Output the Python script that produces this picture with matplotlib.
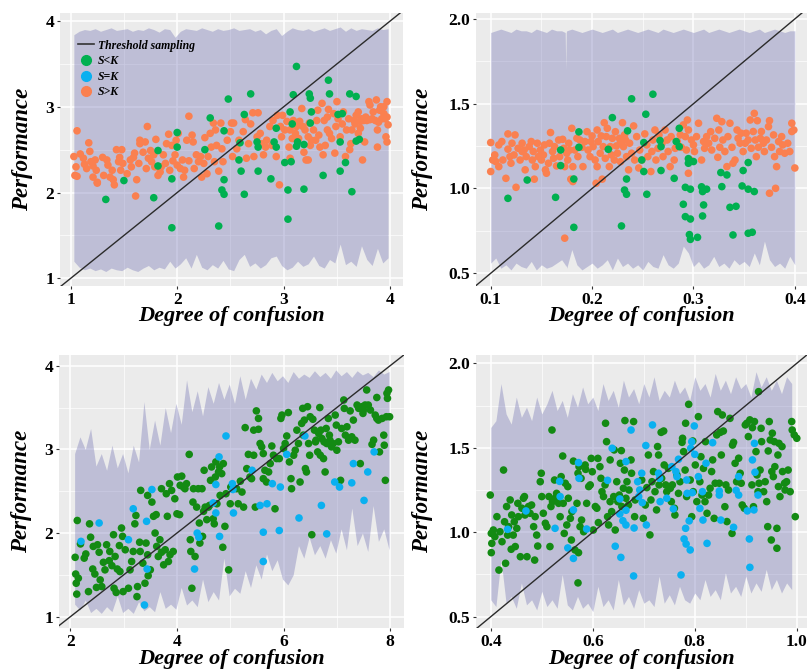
import matplotlib.pyplot as plt
from matplotlib.lines import Line2D

plt.rcParams['font.family'] = ['Liberation Serif', 'DejaVu Serif']

W, H = 807, 669
BG = '#EBEBEB'
BAND = '#6A6AB0'
GREEN = '#00B050'
DKGREEN = '#138A13'
BLUE = '#0AB0F0'
ORANGE = '#FA8050'

# ---------------- panel 1 (top left) ----------------
p1_orange = [
    (1.06, 2.72), (1.17, 2.58), (1.03, 2.42), (1.09, 2.45), (1.12, 2.40), (1.18, 2.48), (1.05, 2.30), (1.04, 2.20),
    (1.06, 2.19), (1.13, 2.33), (1.15, 2.28), (1.19, 2.36), (1.21, 2.31), (1.23, 2.38), (1.24, 2.26), (1.25, 2.11),
    (1.21, 2.18), (1.30, 2.41), (1.31, 2.20), (1.34, 2.38), (1.35, 2.32), (1.37, 2.18), (1.39, 2.26), (1.40, 2.15),
    (1.41, 2.09), (1.43, 2.50), (1.45, 2.36), (1.46, 2.41), (1.47, 2.26), (1.48, 2.50), (1.49, 2.34), (1.53, 2.22),
    (1.56, 2.38), (1.57, 2.30), (1.59, 2.41), (1.60, 2.46), (1.62, 2.15), (1.64, 2.34), (1.65, 2.57), (1.65, 2.61),
    (1.68, 2.47), (1.70, 2.59), (1.71, 2.28), (1.72, 2.77), (1.73, 2.40), (1.75, 2.49), (1.76, 2.36), (1.78, 2.44),
    (1.79, 2.30), (1.80, 2.62), (1.82, 2.20), (1.84, 2.24), (1.85, 2.30), (1.87, 2.44), (1.89, 2.34), (1.90, 2.57),
    (1.92, 2.68), (1.93, 2.26), (1.95, 2.55), (1.96, 2.37), (1.98, 2.44), (1.99, 2.61), (2.00, 2.32), (2.01, 2.69),
    (2.03, 2.28), (2.05, 2.38), (2.06, 2.18), (2.07, 2.26), (2.09, 2.61), (2.11, 2.89), (2.11, 2.37), (2.14, 2.67),
    (2.15, 2.59), (2.16, 2.28), (2.18, 2.44), (2.20, 2.36), (2.22, 2.42), (2.23, 2.18), (2.25, 2.34), (2.26, 2.64),
    (2.28, 2.22), (2.29, 2.42), (2.31, 2.69), (2.32, 2.53), (2.34, 2.81), (2.35, 2.36), (2.36, 2.73), (2.37, 2.55),
    (2.39, 2.25), (2.41, 2.81), (2.42, 2.51), (2.43, 2.36), (2.47, 2.61), (2.50, 2.71), (2.51, 2.81), (2.52, 2.42),
    (1.61, 1.96), (1.25, 2.12),
    (2.53, 2.81), (2.56, 2.51), (2.58, 2.61), (2.62, 2.71), (2.64, 2.85), (2.65, 2.40), (2.67, 2.57), (2.69, 2.80),
    (2.71, 2.93), (2.72, 2.42), (2.75, 2.65), (2.76, 2.93), (2.78, 2.69), (2.79, 2.57), (2.81, 2.44), (2.83, 2.53),
    (2.84, 2.61), (2.87, 2.77), (2.89, 2.55), (2.90, 2.84), (2.93, 2.42), (2.94, 2.90), (2.96, 2.09), (2.97, 2.77),
    (2.98, 2.65), (2.99, 2.90), (3.01, 2.73), (3.03, 2.83), (3.05, 2.53), (3.06, 2.40), (3.06, 2.73), (3.08, 2.63),
    (3.09, 2.84), (3.11, 2.69), (3.12, 2.77), (3.14, 2.63), (3.15, 2.83), (3.17, 2.98), (3.18, 2.77), (3.19, 2.47),
    (3.20, 2.73), (3.21, 2.38), (3.23, 2.38), (3.23, 2.65), (3.24, 2.81), (3.25, 2.55), (3.26, 2.61), (3.28, 2.73),
    (3.30, 2.61), (3.31, 2.84), (3.32, 2.96), (3.33, 2.67), (3.34, 2.53), (3.36, 3.04), (3.37, 2.44), (3.38, 2.84),
    (3.39, 2.55), (3.41, 2.73), (3.41, 2.88), (3.42, 2.97), (3.43, 2.69), (3.45, 2.63), (3.47, 2.92), (3.48, 2.46),
    (3.49, 2.77), (3.50, 3.06), (3.51, 2.86), (3.53, 2.65), (3.55, 2.80), (3.56, 2.94), (3.58, 2.42), (3.59, 2.73),
    (3.61, 2.86), (3.62, 2.50), (3.63, 2.57), (3.64, 2.73), (3.66, 2.84), (3.67, 2.80), (3.68, 2.90), (3.70, 2.69),
    (3.70, 2.94), (3.72, 2.75), (3.72, 2.83), (3.73, 2.86), (3.74, 2.38), (3.75, 2.84), (3.76, 2.59), (3.77, 2.88),
    (3.78, 2.84), (3.80, 3.06), (3.81, 2.85), (3.81, 3.02), (3.83, 2.86), (3.84, 2.94), (3.86, 2.84), (3.87, 3.08),
    (3.88, 2.73), (3.88, 2.53), (3.89, 2.82), (3.90, 2.96), (3.91, 3.00), (3.92, 2.86), (3.94, 3.00), (3.94, 2.92),
    (3.95, 2.86), (3.96, 2.65), (3.97, 3.06), (3.97, 2.88), (3.98, 2.79), (3.97, 2.59),
]
p1_green = [
    (1.33, 1.92), (1.50, 2.14), (1.78, 1.94), (1.82, 2.49), (1.82, 2.31), (1.95, 1.59), (1.95, 2.16), (2.00, 2.70),
    (2.00, 2.53), (2.26, 2.50), (2.31, 2.87), (2.39, 1.61), (2.48, 3.09), (2.44, 2.72), (2.44, 2.15), (2.42, 2.03),
    (2.44, 1.98), (2.58, 2.38), (2.59, 2.58), (2.60, 2.25), (2.63, 2.91), (2.63, 1.98), (2.69, 3.15), (2.75, 2.59),
    (2.76, 2.53), (2.76, 2.25), (2.88, 2.16), (2.91, 2.59), (2.93, 2.75), (2.93, 2.53), (3.01, 2.35), (3.04, 2.03),
    (3.04, 1.69), (3.06, 2.94), (3.07, 2.36), (3.08, 2.80), (3.09, 3.14), (3.12, 3.47), (3.12, 2.54), (3.13, 2.59),
    (3.19, 2.56), (3.19, 2.04), (3.24, 3.15), (3.25, 3.10), (3.25, 2.81), (3.26, 2.94), (3.37, 2.20), (3.42, 3.31),
    (3.43, 3.15), (3.51, 2.91), (3.55, 2.92), (3.53, 2.59), (3.53, 2.25), (3.58, 2.35), (3.62, 3.15), (3.64, 2.01),
    (3.68, 3.12), (3.68, 2.60), (3.71, 2.62),
]
band1_x = [1.03, 1.08, 1.13, 1.18, 1.23, 1.28, 1.33, 1.38, 1.43, 1.48,
           1.53, 1.58, 1.63, 1.68, 1.73, 1.78, 1.83, 1.88, 1.93, 1.98,
           2.03, 2.08, 2.13, 2.18, 2.23, 2.28, 2.33, 2.38, 2.43, 2.48,
           2.53, 2.58, 2.63, 2.68, 2.73, 2.78, 2.83, 2.88, 2.93, 2.98,
           3.03, 3.08, 3.13, 3.18, 3.23, 3.28, 3.33, 3.38, 3.43, 3.48,
           3.53, 3.58, 3.63, 3.68, 3.73, 3.78, 3.83, 3.88, 3.93, 3.98]
band1_hi = [3.84, 3.88, 3.90, 3.89, 3.91, 3.88, 3.90, 3.92, 3.89, 3.90,
            3.91, 3.88, 3.90, 3.89, 3.92, 3.90, 3.87, 3.91, 3.90, 3.81,
            3.88, 3.91, 3.90, 3.89, 3.92, 3.90, 3.88, 3.91, 3.89, 3.90,
            3.92, 3.89, 3.90, 3.91, 3.88, 3.90, 3.85, 3.89, 3.91, 3.83,
            3.88, 3.92, 3.90, 3.89, 3.91, 3.88, 3.90, 3.92, 3.89, 3.91,
            3.93, 3.88, 3.92, 3.89, 3.91, 3.90, 3.89, 3.92, 3.90, 3.91]
band1_lo = [1.20, 1.13, 1.10, 1.12, 1.09, 1.11, 1.08, 1.12, 1.10, 1.09,
            1.13, 1.10, 1.08, 1.12, 1.15, 1.10, 1.13, 1.11, 1.20, 1.12,
            1.17, 1.24, 1.12, 1.28, 1.13, 1.10, 1.16, 1.12, 1.21, 1.11,
            1.09, 1.22, 1.28, 1.14, 1.18, 1.12, 1.16, 1.24, 1.26, 1.15,
            1.10, 1.13, 1.20, 1.14, 1.17, 1.26, 1.15, 1.12, 1.22, 1.18,
            1.40, 1.16, 1.20, 1.14, 1.38, 1.22, 1.15, 1.35, 1.18, 1.24]

# ---------------- panel 2 (top right) ----------------
p2_orange = [
    (0.100, 1.271), (0.102, 1.168), (0.100, 1.100), (0.104, 1.198), (0.105, 1.159), (0.108, 1.257), (0.108, 1.129),
    (0.111, 1.277), (0.112, 1.168), (0.115, 1.060), (0.117, 1.322), (0.117, 1.232), (0.119, 1.188), (0.120, 1.149),
    (0.121, 1.267), (0.123, 1.198), (0.124, 1.316), (0.125, 1.007), (0.127, 1.237), (0.129, 1.168), (0.131, 1.267),
    (0.131, 1.218), (0.133, 1.227), (0.134, 1.110), (0.135, 1.188), (0.138, 1.247), (0.140, 1.277), (0.141, 1.168),
    (0.142, 1.218), (0.143, 1.055), (0.144, 1.129), (0.146, 1.267), (0.147, 1.188), (0.149, 1.227), (0.150, 1.168),
    (0.152, 1.198), (0.153, 1.257), (0.154, 1.110), (0.155, 1.090), (0.157, 1.149), (0.158, 1.267), (0.159, 1.330),
    (0.161, 1.218), (0.162, 1.178), (0.163, 1.247), (0.165, 1.133), (0.167, 1.286), (0.168, 1.188), (0.171, 1.290),
    (0.172, 1.237), (0.173, 1.129), (0.173, 0.707), (0.175, 1.208), (0.176, 1.168), (0.177, 1.267), (0.178, 1.227),
    (0.179, 1.055), (0.180, 1.355), (0.181, 1.129), (0.181, 1.041), (0.183, 1.227), (0.185, 1.296), (0.186, 1.188),
    (0.188, 1.286), (0.190, 1.243), (0.191, 1.129), (0.193, 1.277), (0.195, 1.335), (0.196, 1.227), (0.198, 1.188),
    (0.199, 1.277), (0.200, 1.310), (0.201, 1.247), (0.203, 1.168), (0.204, 1.031), (0.205, 1.345), (0.205, 1.129),
    (0.206, 1.277), (0.208, 1.208), (0.209, 1.310), (0.210, 1.055), (0.211, 1.247), (0.212, 1.388), (0.213, 1.178),
    (0.214, 1.306), (0.215, 1.355), (0.217, 1.129), (0.218, 1.247), (0.219, 1.198), (0.220, 1.296), (0.222, 1.168),
    (0.223, 1.335), (0.224, 1.251), (0.225, 1.208), (0.227, 1.296), (0.228, 1.277), (0.228, 1.158), (0.230, 1.388),
    (0.231, 1.247), (0.232, 1.316), (0.233, 1.286), (0.234, 1.188), (0.236, 1.110), (0.237, 1.267), (0.239, 1.208),
    (0.241, 1.369), (0.242, 1.168), (0.244, 1.306), (0.246, 1.121),
    (0.247, 1.227), (0.249, 1.168), (0.252, 1.322), (0.254, 1.257), (0.255, 1.188), (0.258, 1.100), (0.259, 1.218),
    (0.260, 1.286), (0.262, 1.345), (0.263, 1.168), (0.265, 1.237), (0.266, 1.316), (0.269, 1.267), (0.270, 1.188),
    (0.272, 1.345), (0.274, 1.286), (0.275, 1.218), (0.277, 1.129), (0.278, 1.306), (0.281, 1.168), (0.282, 1.237),
    (0.284, 1.277), (0.287, 1.316), (0.288, 1.243), (0.290, 1.375), (0.292, 1.306), (0.293, 1.227), (0.294, 1.404),
    (0.295, 1.090), (0.295, 1.345), (0.297, 1.168), (0.298, 1.286), (0.300, 1.257), (0.301, 1.218), (0.303, 1.306),
    (0.305, 1.385), (0.308, 1.168), (0.310, 1.277), (0.311, 1.237), (0.313, 1.306), (0.315, 1.267), (0.317, 1.335),
    (0.318, 1.227), (0.321, 1.296), (0.323, 1.414), (0.324, 1.184), (0.325, 1.345), (0.326, 1.243), (0.328, 1.394),
    (0.329, 1.286), (0.331, 1.218), (0.333, 1.129), (0.334, 1.306), (0.336, 1.385), (0.338, 1.243), (0.339, 1.149),
    (0.341, 1.168), (0.343, 1.345), (0.344, 1.296), (0.346, 1.267), (0.347, 1.326), (0.349, 1.218), (0.351, 1.267),
    (0.352, 1.326), (0.354, 1.286), (0.356, 1.404), (0.357, 1.237), (0.359, 1.336), (0.360, 1.443), (0.361, 1.286),
    (0.362, 1.188), (0.363, 1.400), (0.364, 1.243), (0.366, 1.296), (0.367, 1.336), (0.369, 1.267), (0.370, 1.218),
    (0.372, 1.286), (0.374, 1.365), (0.375, 0.972), (0.375, 1.400), (0.377, 1.243), (0.379, 1.316), (0.380, 1.188),
    (0.381, 1.001), (0.382, 1.129), (0.384, 1.277), (0.385, 1.218), (0.387, 1.306), (0.388, 1.257), (0.390, 1.208),
    (0.393, 1.267), (0.395, 1.218), (0.397, 1.385), (0.397, 1.336), (0.399, 1.345), (0.400, 1.121),
]
p2_green = [
    (0.117, 0.942), (0.136, 1.050), (0.164, 0.948), (0.169, 1.227), (0.169, 1.135), (0.182, 1.056), (0.182, 0.771),
    (0.187, 1.334), (0.187, 1.243), (0.216, 1.231), (0.220, 1.418), (0.235, 1.340), (0.234, 1.056), (0.229, 0.779),
    (0.232, 0.991), (0.234, 0.966), (0.239, 1.529), (0.253, 1.438), (0.260, 1.556), (0.254, 0.966), (0.249, 1.168),
    (0.251, 1.271), (0.251, 1.100), (0.267, 1.283), (0.268, 1.247), (0.268, 1.106), (0.281, 1.060), (0.286, 1.355),
    (0.283, 1.277), (0.286, 1.247), (0.292, 1.007), (0.290, 0.907), (0.292, 0.834), (0.297, 0.820), (0.295, 1.176),
    (0.295, 1.149), (0.300, 1.159), (0.297, 0.996), (0.296, 0.728), (0.297, 0.700), (0.304, 0.712), (0.308, 1.010),
    (0.309, 0.982), (0.313, 0.996), (0.310, 0.903), (0.309, 0.838), (0.327, 1.094), (0.333, 1.080), (0.328, 1.011),
    (0.336, 0.889), (0.342, 0.895), (0.339, 0.726), (0.348, 1.015), (0.349, 1.106), (0.354, 1.153), (0.354, 0.996),
    (0.360, 0.982), (0.354, 0.736), (0.358, 0.742),
]
band2_x = [0.100, 0.105, 0.110, 0.115, 0.120, 0.125, 0.130, 0.135, 0.140, 0.145,
           0.150, 0.155, 0.160, 0.165, 0.170, 0.1735, 0.174, 0.1745, 0.175, 0.180,
           0.185, 0.190, 0.195, 0.200, 0.205, 0.210, 0.215, 0.220, 0.225, 0.230,
           0.235, 0.240, 0.245, 0.250, 0.255, 0.260, 0.265, 0.270, 0.275, 0.280,
           0.285, 0.290, 0.295, 0.300, 0.305, 0.310, 0.315, 0.320, 0.325, 0.330,
           0.335, 0.340, 0.345, 0.350, 0.355, 0.360, 0.365, 0.370, 0.375, 0.380,
           0.385, 0.390, 0.395, 0.400]
band2_hi = [1.92, 1.93, 1.94, 1.93, 1.92, 1.94, 1.93, 1.93, 1.92, 1.94,
            1.93, 1.92, 1.94, 1.93, 1.93, 1.92, 1.70, 1.92, 1.93, 1.94,
            1.93, 1.92, 1.93, 1.94, 1.93, 1.92, 1.93, 1.94, 1.92, 1.93,
            1.94, 1.93, 1.92, 1.93, 1.94, 1.93, 1.92, 1.94, 1.93, 1.92,
            1.93, 1.94, 1.93, 1.92, 1.93, 1.94, 1.92, 1.93, 1.94, 1.93,
            1.92, 1.93, 1.94, 1.93, 1.92, 1.93, 1.94, 1.92, 1.93, 1.94,
            1.93, 1.92, 1.93, 1.93]
band2_lo = [0.56, 0.59, 0.53, 0.55, 0.52, 0.56, 0.54, 0.53, 0.57, 0.52,
            0.55, 0.53, 0.54, 0.56, 0.58, 0.55, 0.54, 0.55, 0.53, 0.64,
            0.55, 0.52, 0.54, 0.56, 0.53, 0.55, 0.58, 0.52, 0.59, 0.54,
            0.56, 0.53, 0.55, 0.52, 0.57, 0.54, 0.53, 0.61, 0.55, 0.53,
            0.56, 0.66, 0.62, 0.54, 0.57, 0.53, 0.55, 0.60, 0.54, 0.56,
            0.53, 0.58, 0.55, 0.57, 0.54, 0.62, 0.55, 0.69, 0.58, 0.54,
            0.56, 0.53, 0.60, 0.55]

# ---------------- panel 3 (bottom left) ----------------
p3_green = [
    (2.13, 2.15), (2.36, 2.11), (2.09, 1.71), (2.10, 1.51), (2.11, 1.40), (2.12, 1.27), (2.15, 1.46), (2.19, 1.87),
    (2.26, 1.70), (2.29, 1.75), (2.34, 1.30), (2.38, 1.95), (2.42, 1.57), (2.43, 1.84), (2.46, 1.51), (2.49, 1.35),
    (2.51, 1.86), (2.54, 1.77), (2.56, 1.44), (2.59, 1.36), (2.62, 1.65), (2.65, 1.56), (2.68, 1.86), (2.73, 1.67),
    (2.74, 1.78), (2.78, 1.61), (2.81, 1.98), (2.82, 1.34), (2.84, 1.72), (2.86, 1.29), (2.88, 1.57), (2.92, 1.85),
    (2.93, 1.54), (2.96, 2.06), (2.98, 1.96), (2.99, 1.30), (3.03, 1.80), (3.09, 1.34), (3.12, 1.56), (3.15, 1.66),
    (3.18, 1.78), (3.21, 2.11), (3.23, 2.21), (3.25, 1.24), (3.26, 1.36), (3.30, 1.89), (3.31, 1.78), (3.32, 2.51),
    (3.36, 1.64), (3.40, 1.40), (3.42, 1.88), (3.45, 2.45), (3.45, 1.74), (3.46, 1.49), (3.50, 1.56), (3.53, 2.37),
    (3.56, 2.20), (3.59, 2.00), (3.61, 2.22), (3.62, 1.84), (3.65, 1.72), (3.68, 1.92), (3.71, 1.77), (3.71, 2.53),
    (3.75, 1.62), (3.78, 1.80), (3.80, 2.47), (3.82, 2.20), (3.84, 1.66), (3.86, 2.59), (3.87, 1.74), (3.90, 2.51),
    (3.93, 1.78), (3.96, 2.41), (4.00, 2.23), (4.01, 2.67), (4.05, 2.22), (4.06, 2.57), (4.09, 2.68), (4.12, 2.55),
    (4.15, 2.53), (4.18, 2.59), (4.23, 2.94), (4.25, 1.92), (4.26, 1.78), (4.28, 1.34), (4.30, 2.37), (4.31, 2.53),
    (4.34, 1.72), (4.37, 2.31), (4.40, 2.53), (4.42, 2.12), (4.43, 1.88), (4.47, 2.53), (4.48, 1.96), (4.50, 2.26),
    (4.51, 2.75), (4.53, 2.31), (4.56, 2.16), (4.59, 2.31), (4.61, 2.33), (4.63, 2.63), (4.65, 2.79), (4.68, 2.17),
    (4.70, 2.11), (4.72, 2.67), (4.73, 2.85), (4.75, 2.35), (4.78, 2.73), (4.80, 2.79), (4.81, 2.45), (4.84, 2.71),
    (4.86, 1.83), (4.87, 2.83), (4.90, 2.08), (4.92, 2.47), (4.97, 1.56), (5.00, 2.35), (5.01, 2.55),
    (5.12, 2.53), (5.15, 2.35), (5.19, 2.62), (5.22, 2.49), (5.25, 2.31), (5.28, 3.26), (5.31, 2.77), (5.34, 2.94),
    (5.37, 2.67), (5.40, 2.65), (5.44, 2.93), (5.44, 3.23), (5.47, 2.31), (5.49, 3.46), (5.53, 3.37), (5.53, 3.24),
    (5.56, 3.07), (5.59, 3.03), (5.62, 2.95), (5.62, 2.65), (5.65, 2.75), (5.68, 2.61), (5.72, 2.73), (5.75, 2.83),
    (5.78, 3.04), (5.81, 2.93), (5.84, 2.29), (5.87, 2.89), (5.92, 2.89), (5.95, 3.37), (5.97, 3.41), (6.00, 3.01),
    (6.03, 3.07), (6.06, 3.16), (6.09, 3.44), (6.11, 2.85), (6.14, 2.65), (6.15, 2.53), (6.19, 2.93), (6.22, 2.99),
    (6.25, 3.23), (6.28, 3.07), (6.31, 2.61), (6.34, 3.31), (6.36, 3.49), (6.37, 3.17), (6.39, 3.35), (6.41, 2.77),
    (6.43, 2.73), (6.45, 3.51), (6.47, 3.07), (6.49, 2.93), (6.50, 3.39), (6.53, 1.98), (6.55, 3.36), (6.58, 3.23),
    (6.60, 3.09), (6.61, 3.11), (6.64, 2.97), (6.66, 3.19), (6.68, 3.50), (6.69, 2.93), (6.70, 3.23), (6.72, 3.13),
    (6.75, 2.89), (6.76, 3.09), (6.78, 2.73), (6.80, 3.25), (6.81, 3.07), (6.84, 3.37), (6.86, 3.17), (6.87, 3.11),
    (6.90, 3.03), (6.93, 3.07), (6.97, 3.41), (6.99, 3.29), (7.00, 2.99), (7.03, 3.09), (7.07, 2.63), (7.09, 3.25),
    (7.13, 3.59), (7.14, 3.49), (7.16, 3.17), (7.19, 3.27), (7.22, 3.11), (7.25, 3.46), (7.28, 3.15), (7.31, 3.35),
    (7.34, 3.11), (7.38, 3.53), (7.41, 3.49), (7.44, 2.83), (7.47, 3.51), (7.49, 3.43), (7.50, 3.47), (7.53, 3.53),
    (7.56, 3.71), (7.59, 3.53), (7.63, 3.47), (7.66, 3.06), (7.69, 3.11), (7.72, 3.41), (7.75, 3.62), (7.75, 3.37),
    (7.78, 3.35), (7.80, 2.97), (7.85, 3.37), (7.88, 3.17), (7.89, 3.05), (7.91, 2.63), (7.93, 3.39), (7.94, 3.67),
    (7.95, 3.61), (7.97, 3.71), (7.99, 3.39),
]
p3_blue = [
    (2.20, 1.90), (2.54, 2.12), (3.09, 1.92), (3.18, 2.29), (3.43, 2.14), (3.53, 2.52), (3.44, 1.57), (3.39, 1.14),
    (4.33, 1.57), (4.38, 2.00), (4.41, 1.95), (4.68, 2.36), (4.73, 2.24), (4.73, 2.58), (4.80, 1.96), (4.79, 2.91),
    (4.92, 3.16), (5.04, 2.59), (5.05, 2.52), (5.06, 2.24), (5.41, 2.75), (5.56, 2.33), (5.62, 2.01), (5.62, 1.66),
    (5.69, 2.35), (5.79, 2.59), (5.92, 2.03), (5.94, 2.55), (6.06, 2.94), (6.29, 2.18), (6.40, 3.16), (6.71, 2.33),
    (6.81, 1.99), (6.96, 2.61), (7.05, 2.55), (7.28, 2.60), (7.31, 2.83), (7.51, 2.39), (7.58, 2.73), (7.70, 2.97),
]
band3_x = [2.08, 2.18, 2.28, 2.38, 2.48, 2.58, 2.68, 2.78, 2.88, 2.98,
           3.08, 3.18, 3.28, 3.38, 3.48, 3.58, 3.68, 3.78, 3.88, 3.98,
           4.08, 4.18, 4.28, 4.38, 4.48, 4.58, 4.68, 4.78, 4.88, 4.98,
           5.08, 5.18, 5.28, 5.38, 5.48, 5.58, 5.68, 5.78, 5.88, 5.98,
           6.08, 6.18, 6.28, 6.38, 6.48, 6.58, 6.68, 6.78, 6.88, 6.98,
           7.08, 7.18, 7.28, 7.38, 7.48, 7.58, 7.68, 7.78, 7.88, 7.98]
band3_hi = [2.95, 3.15, 3.00, 3.25, 2.80, 2.95, 2.75, 3.05, 2.78, 2.95,
            2.72, 3.05, 2.85, 3.57, 3.00, 3.35, 3.05, 3.50, 3.20, 3.55,
            3.30, 3.83, 3.45, 3.70, 3.40, 3.75, 3.55, 3.80, 3.60, 3.78,
            3.55, 3.88, 3.60, 3.85, 3.72, 3.90, 3.80, 3.92, 3.82, 3.88,
            3.80, 3.93, 3.85, 3.90, 3.86, 3.94, 3.87, 3.92, 3.85, 3.95,
            3.88, 3.93, 3.86, 3.94, 3.89, 3.92, 3.87, 3.95, 3.90, 3.93]
band3_lo = [1.15, 1.08, 1.20, 1.05, 1.10, 1.04, 1.12, 1.06, 1.25, 1.05,
            1.10, 1.04, 1.18, 1.07, 1.12, 1.06, 1.30, 1.10, 1.15, 1.09,
            1.35, 1.14, 1.20, 1.12, 1.45, 1.18, 1.30, 1.20, 1.70, 1.25,
            1.34, 1.28, 1.55, 1.35, 1.62, 1.45, 1.75, 1.55, 1.68, 1.45,
            1.38, 1.50, 1.85, 1.70, 1.95, 1.74, 1.85, 1.70, 1.92, 1.76,
            2.05, 1.80, 2.30, 1.85, 2.00, 1.78, 2.33, 1.90, 2.05, 1.80]

# ---------------- panel 4 (bottom right) ----------------
p4_green = [
    (0.399, 1.220), (0.401, 0.993), (0.402, 0.934), (0.401, 0.879), (0.405, 1.013), (0.408, 0.974), (0.412, 1.092),
    (0.416, 0.776), (0.418, 1.003), (0.422, 0.944), (0.425, 1.368), (0.427, 1.062), (0.429, 0.816), (0.431, 1.152),
    (0.433, 0.983), (0.435, 1.033), (0.438, 1.191), (0.440, 0.899), (0.441, 1.102), (0.444, 0.983), (0.446, 1.062),
    (0.448, 0.915), (0.451, 1.023), (0.453, 1.171), (0.454, 1.092), (0.458, 0.855), (0.461, 1.142), (0.464, 1.201),
    (0.466, 1.211), (0.467, 1.102), (0.471, 0.855), (0.474, 1.152), (0.477, 1.112), (0.480, 1.161), (0.484, 1.033),
    (0.486, 0.835), (0.487, 1.092), (0.490, 0.983), (0.492, 0.918), (0.497, 1.299), (0.499, 1.349), (0.500, 1.211),
    (0.503, 1.112), (0.507, 1.053), (0.510, 1.033), (0.514, 1.211), (0.516, 0.915), (0.518, 1.152), (0.520, 1.605),
    (0.521, 1.181), (0.525, 1.309), (0.526, 1.201), (0.529, 1.230), (0.533, 1.171), (0.536, 1.092), (0.538, 1.329),
    (0.541, 1.451), (0.542, 1.171), (0.544, 0.993), (0.546, 1.290), (0.549, 1.043), (0.551, 1.270), (0.552, 1.201),
    (0.556, 1.082), (0.558, 0.954), (0.559, 1.122), (0.562, 1.421), (0.565, 0.895), (0.569, 1.171), (0.571, 1.349),
    (0.572, 0.879), (0.573, 1.388), (0.575, 1.033), (0.577, 1.319), (0.578, 1.072), (0.582, 1.003), (0.585, 1.398),
    (0.586, 1.372), (0.588, 1.171), (0.592, 1.270), (0.595, 1.280), (0.597, 1.437), (0.599, 1.358), (0.601, 1.013),
    (0.605, 1.152), (0.608, 1.142), (0.610, 1.437), (0.611, 1.057), (0.614, 1.388), (0.616, 1.319), (0.618, 1.240),
    (0.621, 1.211), (0.624, 1.280), (0.625, 1.645), (0.627, 1.536), (0.629, 1.092), (0.631, 1.043), (0.634, 1.428),
    (0.634, 1.181), (0.637, 1.122), (0.641, 1.211), (0.642, 1.487), (0.644, 1.013), (0.647, 1.299), (0.649, 1.181),
    (0.652, 1.220), (0.654, 1.408), (0.656, 1.483), (0.657, 1.152), (0.660, 1.260), (0.662, 1.368), (0.663, 1.661),
    (0.665, 1.201), (0.667, 1.299), (0.670, 1.161), (0.671, 1.250), (0.675, 1.428), (0.676, 1.349), (0.680, 1.655),
    (0.682, 1.092), (0.683, 1.191), (0.571, 0.700),
    (0.696, 1.309), (0.699, 1.082), (0.703, 1.161), (0.706, 1.264), (0.709, 1.457), (0.712, 0.984), (0.714, 1.191),
    (0.716, 1.299), (0.719, 1.359), (0.722, 1.240), (0.725, 1.132), (0.727, 1.507), (0.729, 1.457), (0.730, 1.280),
    (0.734, 1.591), (0.735, 1.319), (0.739, 1.599), (0.740, 1.398), (0.743, 1.280), (0.745, 1.240), (0.748, 1.378),
    (0.752, 1.260), (0.754, 1.181), (0.756, 1.280), (0.760, 1.142), (0.761, 1.102), (0.765, 1.339), (0.768, 1.230),
    (0.771, 1.299), (0.775, 1.532), (0.776, 1.556), (0.778, 1.477), (0.781, 1.368), (0.782, 1.645), (0.784, 1.211),
    (0.788, 1.757), (0.791, 1.309), (0.794, 1.092), (0.796, 1.540), (0.797, 1.240), (0.801, 1.398), (0.804, 1.181),
    (0.807, 1.684), (0.810, 1.299), (0.812, 1.447), (0.814, 1.220), (0.817, 1.378), (0.820, 1.181), (0.821, 1.536),
    (0.824, 1.112), (0.827, 1.220), (0.830, 1.260), (0.833, 1.359), (0.835, 1.428), (0.838, 1.082), (0.840, 1.290),
    (0.843, 1.576), (0.845, 1.714), (0.848, 1.290), (0.850, 1.591), (0.852, 1.457), (0.854, 1.694), (0.856, 1.599),
    (0.859, 1.151), (0.861, 1.280), (0.863, 1.063), (0.866, 1.250), (0.869, 1.674), (0.873, 0.993), (0.874, 1.516),
    (0.876, 1.532), (0.879, 1.408), (0.882, 1.299), (0.886, 1.438), (0.889, 1.349), (0.891, 1.290), (0.893, 1.161),
    (0.897, 1.142), (0.899, 1.635), (0.902, 1.645), (0.905, 1.566), (0.908, 1.665), (0.912, 1.280), (0.913, 1.619),
    (0.915, 1.151), (0.917, 1.655), (0.920, 1.477), (0.922, 1.339), (0.924, 1.240), (0.925, 1.832), (0.926, 1.290),
    (0.928, 1.368), (0.930, 1.615), (0.931, 1.536), (0.935, 1.240), (0.938, 1.299), (0.941, 1.181), (0.943, 1.033),
    (0.944, 1.481), (0.946, 1.655), (0.948, 1.546), (0.950, 0.954), (0.951, 1.359), (0.952, 1.586), (0.954, 1.329),
    (0.956, 1.536), (0.957, 1.388), (0.961, 1.023), (0.961, 0.905), (0.963, 1.457), (0.964, 1.270), (0.965, 1.526),
    (0.967, 1.211), (0.971, 1.507), (0.972, 1.359), (0.976, 1.290), (0.977, 1.250), (0.980, 1.299), (0.983, 1.368),
    (0.987, 1.240), (0.990, 1.655), (0.991, 1.605), (0.995, 1.576), (0.997, 1.092), (1.000, 1.556),
]
p4_blue = [
    (0.433, 1.017), (0.469, 1.126), (0.526, 1.023), (0.535, 1.301), (0.536, 1.211), (0.551, 0.907), (0.562, 1.132),
    (0.562, 0.845), (0.572, 1.412), (0.573, 1.319), (0.588, 1.019), (0.629, 1.307), (0.638, 1.497), (0.644, 0.917),
    (0.653, 1.197), (0.653, 1.108), (0.655, 0.851), (0.659, 1.068), (0.665, 1.418), (0.665, 1.130), (0.665, 1.043),
    (0.675, 1.605), (0.680, 0.741), (0.681, 1.025), (0.688, 1.299), (0.690, 1.211), (0.692, 1.250), (0.696, 1.349),
    (0.697, 1.175), (0.704, 1.513), (0.705, 1.043), (0.717, 1.635), (0.729, 1.349), (0.731, 1.319), (0.732, 1.181),
    (0.745, 1.201), (0.755, 1.388), (0.758, 1.138), (0.763, 1.359), (0.765, 1.329), (0.768, 1.432), (0.773, 0.747),
    (0.779, 0.960), (0.782, 1.023), (0.783, 0.930), (0.784, 1.309), (0.785, 1.230), (0.789, 1.067), (0.791, 0.895),
    (0.792, 1.497), (0.794, 1.536), (0.795, 1.234), (0.799, 1.629), (0.800, 1.461), (0.807, 1.329), (0.810, 1.141),
    (0.815, 1.240), (0.816, 1.072), (0.822, 1.408), (0.824, 0.934), (0.835, 1.530), (0.848, 1.244), (0.848, 1.220),
    (0.851, 1.072), (0.876, 1.029), (0.881, 1.248), (0.886, 1.220), (0.886, 1.329), (0.903, 1.126), (0.907, 0.960),
    (0.908, 0.792), (0.913, 1.428), (0.916, 1.132), (0.917, 1.526), (0.918, 1.355), (0.924, 1.220),
]
band4_x = [0.40, 0.41, 0.42, 0.43, 0.44, 0.45, 0.46, 0.47, 0.48, 0.49,
           0.50, 0.51, 0.52, 0.53, 0.54, 0.55, 0.56, 0.57, 0.58, 0.59,
           0.60, 0.61, 0.62, 0.63, 0.64, 0.65, 0.66, 0.67, 0.68, 0.69,
           0.70, 0.71, 0.72, 0.73, 0.74, 0.75, 0.76, 0.77, 0.78, 0.79,
           0.80, 0.81, 0.82, 0.83, 0.84, 0.85, 0.86, 0.87, 0.88, 0.89,
           0.90, 0.91, 0.92, 0.93, 0.94, 0.95, 0.96, 0.97, 0.98, 0.99]
band4_hi = [1.62, 1.66, 1.88, 1.70, 1.64, 1.80, 1.68, 1.74, 1.66, 1.80,
            1.70, 1.76, 1.84, 1.72, 1.78, 1.68, 1.82, 1.74, 1.86, 1.76,
            1.80, 1.72, 1.88, 1.78, 1.84, 1.74, 1.90, 1.80, 1.85, 1.76,
            1.88, 1.80, 1.92, 1.78, 1.84, 1.80, 1.90, 1.82, 1.86, 1.78,
            1.92, 1.84, 1.88, 1.80, 1.94, 1.84, 1.90, 1.82, 1.92, 1.85,
            1.88, 1.80, 1.95, 1.86, 1.92, 1.84, 1.90, 1.82, 1.92, 1.88]
band4_lo = [0.60, 0.56, 0.84, 0.58, 0.62, 0.55, 0.70, 0.57, 0.60, 0.54,
            0.65, 0.56, 0.60, 0.55, 0.75, 0.57, 0.54, 0.62, 0.55, 0.58,
            0.53, 0.68, 0.56, 0.60, 0.54, 0.72, 0.57, 0.62, 0.55, 0.66,
            0.58, 0.60, 0.56, 0.74, 0.58, 0.63, 0.57, 0.68, 0.60, 0.58,
            0.64, 0.60, 0.72, 0.62, 0.66, 0.60, 0.76, 0.64, 0.68, 0.62,
            0.74, 0.64, 0.70, 0.65, 0.78, 0.66, 0.72, 0.64, 0.70, 0.66]


fig = plt.figure(figsize=(W / 100, H / 100), dpi=100)


def add_panel(left, top, right, bottom):
    # pixel box -> figure fraction
    return fig.add_axes([left / W, 1 - bottom / H, (right - left) / W, (bottom - top) / H])


def style(ax, xlim, ylim, xticks, yticks, xlabels, ylabels, xlab_y, ylab_x):
    ax.set_facecolor(BG)
    for s in ax.spines.values():
        s.set_visible(False)
    ax.set_xlim(xlim)
    ax.set_ylim(ylim)
    ax.set_xticks(xticks)
    ax.set_yticks(yticks)
    ax.set_xticks([(a + b) / 2 for a, b in zip(xticks[:-1], xticks[1:])], minor=True)
    ax.set_yticks([(a + b) / 2 for a, b in zip(yticks[:-1], yticks[1:])], minor=True)
    ax.set_xticklabels(xlabels, fontweight='bold')
    ax.set_yticklabels(ylabels, fontweight='bold')
    ax.set_axisbelow(True)
    ax.grid(which='major', color='white', lw=1.1)
    ax.grid(which='minor', color='white', lw=0.5)
    ax.tick_params(which='minor', length=0)
    ax.tick_params(which='major', length=2.5, width=0.8, color='#333333', pad=1.5,
                   labelsize=12.5, labelcolor='black')
    ax.set_xlabel('Degree of confusion', fontsize=16, fontweight='bold', fontstyle='italic')
    ax.set_ylabel('Performance', fontsize=16.5, fontweight='bold', fontstyle='italic')
    ax.xaxis.set_label_coords(0.5, xlab_y)
    ax.yaxis.set_label_coords(ylab_x, 0.5)


def draw(ax, bx, lo, hi, p0, p1, groups):
    ax.fill_between(bx, lo, hi, color=BAND, alpha=0.35, lw=0, zorder=1)
    for pts, col in groups:
        xs, ys = zip(*pts)
        ax.scatter(xs, ys, s=30, color=col, edgecolors='none', zorder=3)
    ax.axline(p0, p1, color='#2b2b2b', lw=1.0, zorder=4)


ax1 = add_panel(60, 13, 403, 286)
draw(ax1, band1_x, band1_lo, band1_hi, (1, 1), (4, 4), [(p1_orange, ORANGE), (p1_green, GREEN)])
style(ax1, (0.90, 4.12), (0.911, 4.093), [1, 2, 3, 4], [1, 2, 3, 4],
      ['1', '2', '3', '4'], ['1', '2', '3', '4'], -0.074, -0.079)

handles = [Line2D([0], [0], color='#333333', lw=1.2),
           Line2D([0], [0], marker='o', ls='', color=GREEN, markersize=7),
           Line2D([0], [0], marker='o', ls='', color=BLUE, markersize=7),
           Line2D([0], [0], marker='o', ls='', color=ORANGE, markersize=7)]
ax1.legend(handles, ['Threshold sampling', 'S<K', 'S=K', 'S>K'], loc='upper left',
           bbox_to_anchor=(0.038, 0.92), frameon=False, handlelength=1.4, handletextpad=0.3,
           labelspacing=0.3, borderaxespad=0,
           prop=dict(family='Liberation Serif', weight='bold', style='italic', size=8.5))

ax2 = add_panel(476, 13, 807, 286)
draw(ax2, band2_x, band2_lo, band2_hi, (0.1, 0.5), (0.4, 2.0), [(p2_orange, ORANGE), (p2_green, GREEN)])
style(ax2, (0.0855, 0.412), (0.425, 2.035), [0.1, 0.2, 0.3, 0.4], [0.5, 1.0, 1.5, 2.0],
      ['0.1', '0.2', '0.3', '0.4'], ['0.5', '1.0', '1.5', '2.0'], -0.074, -0.13)

ax3 = add_panel(59, 355, 404, 628)
draw(ax3, band3_x, band3_lo, band3_hi, (2, 1), (8, 4), [(p3_green, DKGREEN), (p3_blue, BLUE)])
style(ax3, (1.787, 8.26), (0.865, 4.128), [2, 4, 6, 8], [1, 2, 3, 4],
      ['2', '4', '6', '8'], ['1', '2', '3', '4'], -0.078, -0.078)

ax4 = add_panel(476, 355, 807, 628)
draw(ax4, band4_x, band4_lo, band4_hi, (0.4, 0.5), (1.0, 2.0), [(p4_green, DKGREEN), (p4_blue, BLUE)])
style(ax4, (0.371, 1.020), (0.433, 2.049), [0.4, 0.6, 0.8, 1.0], [0.5, 1.0, 1.5, 2.0],
      ['0.4', '0.6', '0.8', '1.0'], ['0.5', '1.0', '1.5', '2.0'], -0.078, -0.13)

fig.savefig('out.png', dpi=100)
plt.close(fig)
